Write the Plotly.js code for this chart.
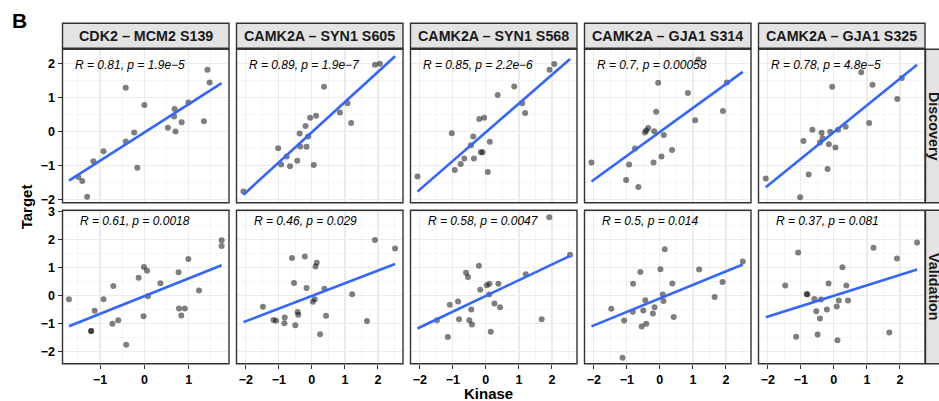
<!DOCTYPE html>
<html>
<head>
<meta charset="utf-8">
<script src="https://cdn.plot.ly/plotly-3.0.1.min.js"></script>
<style>html,body{margin:0;padding:0;background:#fff;}#chart{width:939px;height:401px;}</style>
</head>
<body>
<div id="chart"></div>
<script>
// ---------- data ----------
const panelTitles = ["CDK2 \u2013 MCM2 S139", "CAMK2A \u2013 SYN1 S605", "CAMK2A \u2013 SYN1 S568", "CAMK2A \u2013 GJA1 S314", "CAMK2A \u2013 GJA1 S325"];
const rowLabels = ["Discovery", "Validation"];
const statsDiscovery = ["R = 0.81, p = 1.9e\u22125", "R = 0.89, p = 1.9e\u22127", "R = 0.85, p = 2.2e\u22126", "R = 0.7, p = 0.00058", "R = 0.78, p = 4.8e\u22125"];
const statsValidation = ["R = 0.61, p = 0.0018", "R = 0.46, p = 0.029", "R = 0.58, p = 0.0047", "R = 0.5, p = 0.014", "R = 0.37, p = 0.081"];

// Discovery
const d1x = [1.42,1.47,-0.42,0.00,0.99,0.68,0.67,0.84,1.34,0.53,0.70,-0.23,-0.42,-0.92,-1.15,-0.16,-1.49,-1.40,-1.29];
const d1y = [1.81,1.44,1.28,0.78,0.85,0.66,0.44,0.27,0.30,0.11,0.00,-0.03,-0.29,-0.58,-0.87,-1.06,-1.33,-1.45,-1.91];
const d2x = [-2.07,1.91,2.06,0.37,1.08,0.85,1.19,0.13,-0.05,-0.19,-0.37,-0.11,-0.35,-0.16,-1.02,-0.76,-0.93,-0.66,-0.44,0.06];
const d2y = [-1.76,1.96,1.99,1.31,0.83,0.56,0.25,0.46,0.40,0.16,-0.06,-0.15,-0.44,-0.45,-0.49,-0.73,-0.97,-1.02,-0.86,-0.98];
const d3x = [-2.07,1.93,2.07,0.86,0.36,1.10,1.19,-0.20,-0.05,-1.03,-0.38,-0.45,0.12,-0.15,-0.10,-0.65,-0.36,-0.76,-0.94,0.06];
const d3y = [-1.32,1.81,1.98,1.32,1.07,0.83,0.54,0.37,0.40,-0.05,-0.15,-0.40,-0.30,-0.61,-0.61,-0.79,-0.79,-0.95,-1.13,-1.19];
const d4x = [-2.07,1.17,2.03,-0.05,0.85,1.91,-0.11,1.07,-0.35,-0.41,-0.45,-0.17,0.12,-0.75,0.37,0.05,-0.19,-0.93,-1.02,-0.65];
const d4y = [-0.91,2.11,1.44,1.43,1.13,0.60,0.58,0.33,0.10,0.03,-0.03,0.01,-0.10,-0.50,-0.54,-0.73,-0.91,-0.97,-1.42,-1.63];
const d5x = [-2.06,0.83,2.06,1.17,-0.05,1.92,1.07,0.36,0.13,-0.11,-0.65,-0.37,-0.42,-0.34,-0.15,0.05,-0.92,-0.19,-0.76,-1.02];
const d5y = [-1.38,1.74,1.57,1.37,1.31,0.95,0.25,0.14,0.05,-0.01,0.05,-0.04,-0.32,-0.20,-0.37,-0.47,-0.28,-1.10,-1.26,-1.93];
// Validation
const v1x = [1.74,1.74,0.99,-0.01,0.06,0.77,-0.13,0.36,-0.70,1.23,0.08,-1.70,-0.92,-1.12,0.78,0.91,0.83,-0.02,-0.59,-0.72,-1.20,-1.20,-0.41];
const v1y = [1.98,1.77,1.31,1.02,0.89,0.83,0.64,0.44,0.34,0.18,-0.02,-0.13,-0.13,-0.54,-0.46,-0.46,-0.71,-0.74,-0.88,-1.01,-1.27,-1.27,-1.76];
const v2x = [1.91,2.52,-0.21,-0.60,0.15,0.11,-0.54,-0.16,0.38,1.22,0.09,0.03,-1.48,-0.43,-0.41,0.43,-0.82,-1.16,-1.08,-0.83,-0.50,1.67,0.25];
const v2y = [1.99,1.68,1.40,1.34,1.17,1.04,0.45,0.27,0.24,0.05,-0.13,-0.22,-0.40,-0.59,-0.69,-0.72,-0.78,-0.87,-0.90,-0.99,-1.06,-0.91,-1.38];
const v3x = [1.92,2.55,-0.21,-0.60,-0.54,1.21,0.11,0.03,0.38,-0.17,0.10,-0.84,-1.09,0.26,0.43,-0.44,-1.48,-0.81,-0.50,-0.42,1.69,0.15,-1.15];
const v3y = [2.80,1.46,1.07,0.82,0.66,0.76,0.42,0.37,0.42,0.21,0.04,-0.21,-0.33,-0.28,-0.42,-0.50,-0.88,-0.85,-0.88,-1.03,-0.85,-1.29,-1.48];
const v4x = [0.15,2.51,0.02,1.19,-0.59,1.90,-0.81,0.38,1.66,0.09,-0.44,0.11,-1.47,-0.16,-0.50,-0.82,-0.21,0.42,-1.08,-0.41,-0.55,-1.13];
const v4y = [1.66,1.22,0.94,0.93,0.84,0.49,0.42,0.43,-0.05,0.04,-0.17,-0.19,-0.47,-0.42,-0.53,-0.58,-0.64,-0.77,-0.89,-1.01,-1.11,-2.22];
const v5x = [2.52,1.20,-1.08,1.91,0.26,-0.16,0.38,-1.47,-0.82,-0.80,-0.59,-0.39,0.15,0.43,0.09,-0.21,-0.53,-0.42,-1.14,-0.49,1.68,0.11];
const v5y = [1.90,1.71,1.54,1.33,1.01,0.43,0.36,0.36,0.06,0.04,-0.12,-0.14,-0.18,-0.18,-0.39,-0.50,-0.56,-0.82,-1.47,-1.39,-1.32,-1.60];

const panels = [
  [[d1x,d1y],[d2x,d2y],[d3x,d3y],[d4x,d4y],[d5x,d5y]],
  [[v1x,v1y],[v2x,v2y],[v3x,v3y],[v4x,v4y],[v5x,v5y]]
];
const stats = [statsDiscovery, statsValidation];

// ---------- geometry ----------
const W = 939, H = 401;
const colL = [62.5, 236.5, 410.5, 584.5, 758.5], colW = 166.5;
const rowT = [49.3, 210.3], rowH = 153.5;
const xRangeCol = [[-1.845, 1.906], [-2.28, 2.76], [-2.28, 2.76], [-2.28, 2.76], [-2.28, 2.76]];
const yRangeRow = [[-2.09, 2.41], [-2.44, 3.05]];
const fx = p => p / W;
const fy = p => 1 - p / H;

const FONT = "Liberation Sans, Arial, Helvetica, sans-serif";
const tickFont = {family: FONT, size: 12.5, color: "#000", weight: "bold"};

function linfit(x, y) {
  const n = x.length;
  const mx = x.reduce((a, b) => a + b, 0) / n;
  const my = y.reduce((a, b) => a + b, 0) / n;
  let sxy = 0, sxx = 0;
  for (let i = 0; i < n; i++) { sxy += (x[i] - mx) * (y[i] - my); sxx += (x[i] - mx) ** 2; }
  const b = sxy / sxx;
  return {a: my - b * mx, b: b};
}

const traces = [];
const layout = {
  width: W, height: H,
  margin: {l: 0, r: 0, t: 0, b: 0, autoexpand: false},
  paper_bgcolor: "#fff", plot_bgcolor: "#fff",
  showlegend: false,
  shapes: [], annotations: []
};

for (let r = 0; r < 2; r++) {
  for (let c = 0; c < 5; c++) {
    const n = r * 5 + c + 1;
    const xa = "x" + n, ya = "y" + n;
    const [px, py] = panels[r][c];
    const colX = panels[0][c][0].concat(panels[1][c][0]);
    const x0 = Math.min(...colX), x1 = Math.max(...colX);
    const f = linfit(px, py);

    traces.push({
      type: "scatter", mode: "markers", x: px, y: py, xaxis: xa, yaxis: ya,
      marker: {size: 6, color: "rgba(0,0,0,0.5)", line: {width: 0}},
      hoverinfo: "skip"
    });
    traces.push({
      type: "scatter", mode: "lines", x: [x0, x1], y: [f.a + f.b * x0, f.a + f.b * x1],
      xaxis: xa, yaxis: ya, line: {color: "#3366FF", width: 2.6}, hoverinfo: "skip"
    });

    const L = colL[c], T = rowT[r];
    layout["xaxis" + n] = {
      domain: [fx(L), fx(L + colW)], range: xRangeCol[c], anchor: ya,
      tickmode: "linear", tick0: 0, dtick: 1,
      showgrid: true, gridcolor: "#EBEBEB", gridwidth: 1.3,
      minor: {dtick: 0.5, tick0: 0, showgrid: true, gridcolor: "#F2F2F2", gridwidth: 0.8, ticks: ""},
      zeroline: false, showline: false,
      ticks: r === 1 ? "outside" : "", ticklen: 4, tickwidth: 1, tickcolor: "#333",
      showticklabels: r === 1, tickfont: tickFont, fixedrange: true
    };
    layout["yaxis" + n] = {
      domain: [fy(T + rowH), fy(T)], range: yRangeRow[r], anchor: xa,
      tickmode: "linear", tick0: 0, dtick: 1,
      showgrid: true, gridcolor: "#EBEBEB", gridwidth: 1.3,
      minor: {dtick: 0.5, tick0: 0, showgrid: true, gridcolor: "#F2F2F2", gridwidth: 0.8, ticks: ""},
      zeroline: false, showline: false,
      ticks: c === 0 ? "outside" : "", ticklen: 4, tickwidth: 1, tickcolor: "#333",
      showticklabels: c === 0, tickfont: tickFont, fixedrange: true
    };

    layout.shapes.push({type: "rect", xref: "paper", yref: "paper",
      x0: fx(L), x1: fx(L + colW), y0: fy(T + rowH), y1: fy(T),
      line: {color: "#333", width: 1.4}, fillcolor: "rgba(0,0,0,0)", layer: "above"});

    layout.annotations.push({xref: "paper", yref: "paper",
      x: fx(L + (r === 0 ? 10 : 15)), y: fy(T + (r === 0 ? 15.5 : 11)),
      xanchor: "left", yanchor: "middle", showarrow: false,
      text: "<i>" + stats[r][c] + "</i>",
      font: {family: FONT, size: 12, color: "#000"}});
  }
}

for (let c = 0; c < 5; c++) {
  const L = colL[c];
  layout.shapes.push({type: "rect", xref: "paper", yref: "paper",
    x0: fx(L), x1: fx(L + colW), y0: fy(48.3), y1: fy(23.3),
    line: {color: "#333", width: 1.4}, fillcolor: "#E3E3E3", layer: "above"});
  layout.annotations.push({xref: "paper", yref: "paper", x: fx(L + colW / 2), y: fy(35.8),
    xanchor: "center", yanchor: "middle", showarrow: false, text: "<b>" + panelTitles[c] + "</b>",
    font: {family: FONT, size: 14.3, color: "#1a1a1a"}});
}
for (let r = 0; r < 2; r++) {
  const T = rowT[r];
  layout.shapes.push({type: "rect", xref: "paper", yref: "paper",
    x0: fx(925.5), x1: fx(952), y0: fy(T + rowH), y1: fy(T),
    line: {color: "#333", width: 1.4}, fillcolor: "#E3E3E3", layer: "above"});
  layout.annotations.push({xref: "paper", yref: "paper", x: fx(934), y: fy(T + rowH / 2),
    xanchor: "center", yanchor: "middle", showarrow: false, textangle: 90,
    text: "<b>" + rowLabels[r] + "</b>",
    font: {family: FONT, size: 14.3, color: "#1a1a1a"}});
}

layout.annotations.push({xref: "paper", yref: "paper", x: fx(19), y: fy(20.5),
  xanchor: "center", yanchor: "middle", showarrow: false, text: "<b>B</b>",
  font: {family: FONT, size: 21, color: "#000"}});
layout.annotations.push({xref: "paper", yref: "paper", x: fx(26.5), y: fy(206.8),
  xanchor: "center", yanchor: "middle", showarrow: false, textangle: -90, text: "<b>Target</b>",
  font: {family: FONT, size: 15, color: "#000"}});
layout.annotations.push({xref: "paper", yref: "paper", x: fx(488), y: fy(393),
  xanchor: "center", yanchor: "middle", showarrow: false, text: "<b>Kinase</b>",
  font: {family: FONT, size: 15, color: "#000"}});

Plotly.newPlot("chart", traces, layout, {staticPlot: true, displayModeBar: false});
</script>
</body>
</html>
